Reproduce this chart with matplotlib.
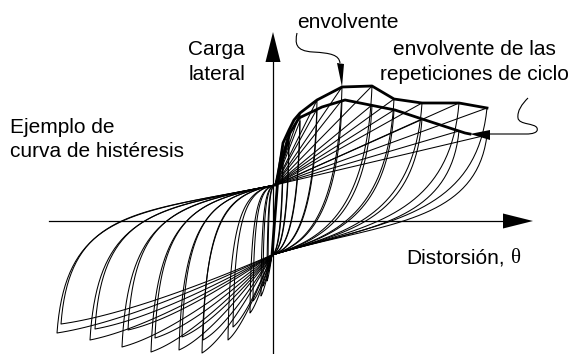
import numpy as np
import matplotlib
matplotlib.use("Agg")
from matplotlib import pyplot as plt
from matplotlib.path import Path
from matplotlib.patches import PathPatch

# pinch points (drift, load) where the cycles cross
upper_pinch = np.array([2.0, 36.0])
lower_pinch = np.array([-1.0, -34.0])

# peaks of each cycle level
pos_x = [10, 16, 27, 44, 69, 99, 121, 149, 186, 214]
pos_env_y = [78, 91, 108, 121, 134, 135, 122, 118, 118, 113]
pos_rep_y = [61, 80, 100, 112, 121, 116, 111, 102, 90, 86]
neg_x = [-6, -12, -23, -45, -71, -94, -122, -151, -183, -216]
neg_env_y = [-60, -75, -92, -119, -132, -129, -131, -126, -119, -112]
neg_rep_x = [-5, -10, -20, -40, -70, -91, -118, -145, -178, -212]
neg_rep_y = [-50, -65, -80, -106, -119, -116, -117, -109, -108, -103]

# envelope of first cycles and envelope of repeated cycles
env_x = [-1, 5, 10, 16, 21, 27, 44, 69, 99, 121, 149, 186, 214]
env_y = [-34, 44, 78, 91, 101, 108, 121, 134, 135, 122, 118, 118, 113]
rep_x = [2, 4, 9, 17, 26, 49, 72, 122, 146, 192, 197]
rep_y = [36, 38, 61, 88, 103, 114, 121, 111, 103, 88, 87]

# leader lines of the labels
lead1_verts = [(24, 188), (22, 178), (22, 170), (40, 169),
               (58, 168), (66, 166), (67, 158)]
lead1_head = [(64, 158), (71, 157), (69, 134)]
lead2_verts = [(255, 123), (249, 117), (244, 110), (245, 103),
               (246, 96), (262, 98), (264, 93),
               (266, 88), (258, 87), (254, 87), (217, 87)]
lead2_head = [(217, 91), (217, 81), (197, 87)]

font = "Liberation Sans"


def bezier(p0, p1, p2, p3, n=40):
    t = np.linspace(0, 1, n)[:, None]
    return ((1 - t) ** 3 * p0 + 3 * (1 - t) ** 2 * t * p1
            + 3 * (1 - t) * t ** 2 * p2 + t ** 3 * p3)


def cycle(xp, yp, xn, yn):
    P = np.array([xp, yp], float)
    N = np.array([xn, yn], float)
    U, L = upper_pinch, lower_pinch
    load_pos = np.vstack([U, P])
    W, H = P - L
    unload = bezier(P, P + [-0.05 * W, -0.75 * H], L + [0.5 * W, 0.15 * W], L)
    t = np.linspace(0, 1, 30)[:, None]
    ctrl = N + [0.35 * (L[0] - N[0]), 0.15 * (L[1] - N[1])]
    load_neg = (1 - t) ** 2 * L + 2 * (1 - t) * t * ctrl + t ** 2 * N
    W2, H2 = U - N
    reload = bezier(N, N + [0.04 * W2, 0.82 * H2], U - [0.65 * W2, 0.13 * W2], U)
    return np.vstack([load_pos, unload, load_neg, reload])


fig = plt.figure(figsize=(5.74, 3.54), dpi=100)
ax = fig.add_axes([0, 0, 1, 1])
ax.set_xlim(-273, 301)
ax.set_ylim(-133, 221)
ax.axis("off")

# axes with arrow heads
ax.plot([-224, 232], [0, 0], color="black", lw=0.9)
ax.fill([230, 230, 260], [-7.5, 7.5, 0], color="black", lw=0)
ax.plot([0, 0], [-140, 161], color="black", lw=0.9)
ax.fill([-7.5, 7.5, 0], [159, 159, 189], color="black", lw=0)

for i in range(len(pos_x)):
    c = cycle(pos_x[i], pos_env_y[i], neg_x[i], neg_env_y[i])
    ax.plot(c[:, 0], c[:, 1], color="black", lw=0.75)
    c = cycle(pos_x[i], pos_rep_y[i], neg_rep_x[i], neg_rep_y[i])
    ax.plot(c[:, 0], c[:, 1], color="black", lw=0.75)

ax.plot(env_x, env_y, color="black", lw=2.0, solid_joinstyle="round")
ax.plot(rep_x, rep_y, color="black", lw=2.0, solid_joinstyle="round")

codes1 = [Path.MOVETO] + [Path.CURVE4] * 6
ax.add_patch(PathPatch(Path(lead1_verts, codes1), fill=False, lw=0.8))
ax.fill(*zip(*lead1_head), color="black", lw=0)
codes2 = [Path.MOVETO] + [Path.CURVE4] * 9 + [Path.LINETO]
ax.add_patch(PathPatch(Path(lead2_verts, codes2), fill=False, lw=0.8))
ax.fill(*zip(*lead2_head), color="black", lw=0)

fs = 15
ax.text(-28, 166, "Carga", ha="right", va="baseline", fontsize=fs, family=font)
ax.text(-27, 141, "lateral", ha="right", va="baseline", fontsize=fs, family=font)
ax.text(24, 193, "envolvente", ha="left", va="baseline", fontsize=fs, family=font)
ax.text(201, 166, "envolvente de las", ha="center", va="baseline", fontsize=fs, family=font)
ax.text(201, 141, "repeticiones de ciclo", ha="center", va="baseline", fontsize=fs, family=font)
ax.text(-263, 88, "Ejemplo de", ha="left", va="baseline", fontsize=fs, family=font)
ax.text(-263, 64, "curva de histéresis", ha="left", va="baseline", fontsize=fs, family=font)
ax.text(133, -42, "Distorsión,", ha="left", va="baseline", fontsize=fs, family=font)
ax.text(238, -42, "θ", ha="left", va="baseline", fontsize=fs, family="Liberation Serif")

fig.savefig("out.png", dpi=100)
